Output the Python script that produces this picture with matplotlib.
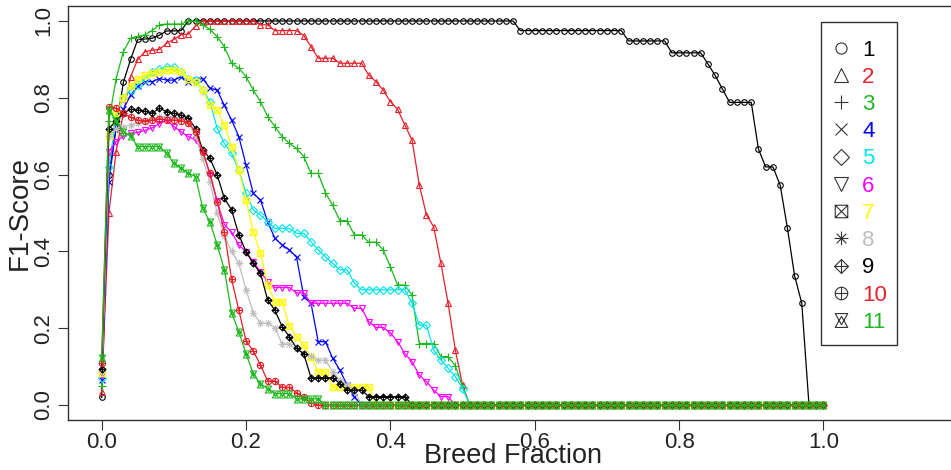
import numpy as np
import matplotlib
matplotlib.use('Agg')
import matplotlib.pyplot as plt
from matplotlib.path import Path
from matplotlib.lines import Line2D
from matplotlib.patches import Rectangle

plt.rcParams['font.family'] = ['Liberation Sans', 'DejaVu Sans']

# breed fraction grid
breed_frac = np.linspace(0, 1, 101)

labels = ['1', '2', '3', '4', '5', '6', '7', '8', '9', '10', '11']
colors = ['#000000', '#E8202A', '#1DB81D', '#0000FF', '#00E5EE', '#FF00FF',
          '#FFFF00', '#BEBEBE', '#000000', '#E8202A', '#1DB81D']

f1_1 = ([0.02, 0.60, 0.72, 0.84, 0.90, 0.952, 0.953, 0.955, 0.963, 0.974, 0.974, 0.975]
        + [1.0] * 46 + [0.975] * 15 + [0.948] * 6 + [0.917] * 5
        + [0.888, 0.858, 0.823] + [0.788] * 4
        + [0.666, 0.62, 0.62, 0.573, 0.462, 0.337, 0.265] + [0.0] * 3)
f1_2 = ([0.035, 0.50, 0.66, 0.76, 0.855, 0.90, 0.92, 0.924, 0.926, 0.942, 0.952, 0.964, 0.966, 0.987]
        + [1.0] * 8 + [0.99] * 2 + [0.975] * 4 + [0.962, 0.933] + [0.903] * 3 + [0.89] * 4
        + [0.859, 0.842, 0.82, 0.79, 0.77, 0.729, 0.69, 0.573, 0.495, 0.464, 0.369, 0.265, 0.143, 0.052]
        + [0.0] * 50)
f1_3 = ([0.05, 0.74, 0.85, 0.92, 0.955, 0.96, 0.964, 0.975, 0.99, 0.992, 0.992, 0.992, 1.0, 1.0,
         0.99, 0.978, 0.959, 0.933, 0.89, 0.877, 0.855, 0.82, 0.79, 0.751, 0.725, 0.699, 0.681,
         0.668, 0.647, 0.603, 0.603, 0.553, 0.52, 0.48, 0.48, 0.443, 0.443, 0.424, 0.424, 0.404,
         0.36, 0.3125, 0.3125, 0.286, 0.16, 0.16, 0.16, 0.126, 0.126, 0.102, 0.048]
        + [0.0] * 50)
f1_4 = ([0.065, 0.58, 0.725, 0.77, 0.807, 0.83, 0.842, 0.842, 0.85, 0.846, 0.846, 0.855, 0.842,
         0.846, 0.85, 0.825, 0.82, 0.78, 0.742, 0.699, 0.625, 0.551, 0.534, 0.477, 0.434, 0.417,
         0.404, 0.385, 0.282, 0.265, 0.165, 0.165, 0.122, 0.091, 0.052, 0.022]
        + [0.0] * 65)
f1_5 = ([0.07, 0.62, 0.75, 0.80, 0.82, 0.833, 0.85, 0.868, 0.874, 0.881, 0.881, 0.868, 0.85,
         0.846, 0.82, 0.79, 0.72, 0.681, 0.655, 0.612, 0.551, 0.508, 0.495, 0.477, 0.46, 0.46,
         0.46, 0.447, 0.447, 0.425, 0.404, 0.386, 0.369, 0.352, 0.352, 0.318]
        + [0.30] * 7
        + [0.265, 0.208, 0.208, 0.143, 0.117, 0.096, 0.074, 0.043]
        + [0.0] * 50)
f1_6 = ([0.075, 0.66, 0.686, 0.70, 0.707, 0.71, 0.715, 0.722, 0.733, 0.742, 0.725, 0.712, 0.699,
         0.69, 0.66, 0.60, 0.53, 0.47, 0.45, 0.417, 0.399, 0.373, 0.347, 0.321, 0.306, 0.306,
         0.306, 0.292, 0.292]
        + [0.265] * 6
        + [0.252, 0.252, 0.217, 0.202, 0.202, 0.188, 0.165, 0.134, 0.113, 0.078, 0.061, 0.039,
           0.022, 0.022]
        + [0.0] * 52)
f1_7 = ([0.083, 0.70, 0.76, 0.80, 0.83, 0.85, 0.859, 0.865, 0.868, 0.872, 0.872, 0.868, 0.85,
         0.842, 0.82, 0.78, 0.768, 0.729, 0.673, 0.612, 0.534, 0.451, 0.395, 0.3125, 0.269,
         0.269, 0.206, 0.178, 0.156, 0.126, 0.087, 0.087]
        + [0.048] * 6 + [0.0] * 63)
f1_8 = ([0.088, 0.70, 0.72, 0.725, 0.729, 0.735, 0.74, 0.745, 0.75, 0.752, 0.75, 0.745, 0.735,
         0.70, 0.64, 0.58, 0.50, 0.44, 0.40, 0.369, 0.30, 0.239, 0.213, 0.213, 0.201, 0.159,
         0.159, 0.145, 0.135, 0.128, 0.117, 0.117, 0.087, 0.065, 0.052, 0.039]
        + [0.0] * 65)
f1_9 = ([0.093, 0.72, 0.74, 0.76, 0.77, 0.768, 0.765, 0.76, 0.773, 0.764, 0.76, 0.755, 0.747,
         0.72, 0.664, 0.642, 0.599, 0.538, 0.508, 0.443, 0.399, 0.369, 0.343, 0.273, 0.247,
         0.204, 0.178, 0.148, 0.133]
        + [0.071] * 4 + [0.056] + [0.039] * 3 + [0.022] * 6 + [0.0] * 58)
f1_10 = ([0.109, 0.777, 0.773, 0.76, 0.749, 0.742, 0.74, 0.742, 0.745, 0.742, 0.742, 0.74,
          0.735, 0.712, 0.66, 0.603, 0.529, 0.45, 0.327, 0.247, 0.167, 0.141, 0.104, 0.0625,
          0.0625, 0.046, 0.046, 0.032, 0.02, 0.005]
         + [0.0] * 71)
f1_11 = ([0.122, 0.768, 0.74, 0.712, 0.70] + [0.673] * 4
         + [0.655, 0.629, 0.616, 0.603, 0.595, 0.512, 0.477, 0.417, 0.352, 0.24, 0.191, 0.134,
            0.081, 0.055, 0.043]
         + [0.03] * 3 + [0.016] * 4 + [0.0] * 70)

series = [f1_1, f1_2, f1_3, f1_4, f1_5, f1_6, f1_7, f1_8, f1_9, f1_10, f1_11]


# R style plotting symbols 7-11 built from paths
def seg_path(polys, segs):
    verts, codes = [], []
    for p in polys:
        verts += p + [p[0]]
        codes += [Path.MOVETO] + [Path.LINETO] * (len(p) - 1) + [Path.CLOSEPOLY]
    for a, b in segs:
        verts += [a, b]
        codes += [Path.MOVETO, Path.LINETO]
    return Path(verts, codes)

sq = [(-1, -1), (1, -1), (1, 1), (-1, 1)]
dia = [(0, 1), (1, 0), (0, -1), (-1, 0)]
plus = [((-1, 0), (1, 0)), ((0, -1), (0, 1))]
cross = [((-1, -1), (1, 1)), ((-1, 1), (1, -1))]
cross7 = [((-.7, -.7), (.7, .7)), ((-.7, .7), (.7, -.7))]

pch7 = seg_path([sq], cross)
pch8 = seg_path([], plus + cross7)
pch9 = seg_path([dia], plus)
pch10 = Path.make_compound_path(Path.unit_circle(), seg_path([], plus))
pch11 = seg_path([[(-0.9, 1), (0.9, 1), (0, -0.6)], [(-0.9, -1), (0.9, -1), (0, 0.6)]], [])

markers = ['o', '^', '+', 'x', 'D', 'v', pch7, pch8, pch9, pch10, pch11]
msizes = [4, 5, 5.5, 4.5, 4, 5, 4.5, 5.5, 5, 4.5, 5]
leg_sizes = [8, 10, 10, 9, 8, 10, 9, 10, 10, 9, 10]

fig = plt.figure(figsize=(9.51, 4.70), dpi=100)
ax = fig.add_axes([0.0715, 0.1055, 0.956, 0.8826])

for i in range(len(series)):
    ax.plot(breed_frac, series[i], color=colors[i], lw=0.9, marker=markers[i],
            ms=msizes[i], mfc='none', mew=0.8)

ax.set_xlim(-0.0467, 1.213)
ax.set_ylim(-0.04, 1.04)
ax.set_xticks([0.0, 0.2, 0.4, 0.6, 0.8, 1.0])
ax.set_yticks([0.0, 0.2, 0.4, 0.6, 0.8, 1.0])
ax.set_xticklabels(['0.0', '0.2', '0.4', '0.6', '0.8', '1.0'])
ax.set_yticklabels(['0.0', '0.2', '0.4', '0.6', '0.8', '1.0'])
ax.tick_params(length=7, width=0.8, labelsize=16, color='#333333', labelcolor='#222222')
ax.tick_params(axis='x', pad=1)
ax.tick_params(axis='y', pad=3)
for lab in ax.get_yticklabels():
    lab.set_rotation(90)
    lab.set_va('center')
for s in ax.spines.values():
    s.set_color('#333333')
    s.set_linewidth(1.0)

ax.set_xlabel('Breed Fraction', fontsize=19.5, labelpad=-6.5, color='#222222')
ax.xaxis.label.set_x(0.49)
ax.set_ylabel('F1-Score', fontsize=20, labelpad=0, color='#222222')

# legend: black symbols, coloured labels, square box
ax.add_patch(Rectangle((0.828, 0.1818), 0.084, 0.7787, transform=ax.transAxes,
                       fill=False, edgecolor='#333333', lw=1.0, zorder=5))
handles = [Line2D([], [], marker=markers[i], color='#333333', ls='None', ms=leg_sizes[i],
                  mfc='none', mew=0.8) for i in range(len(labels))]
leg = ax.legend(handles, labels, loc='upper left', bbox_to_anchor=(0.838, 0.918),
                fontsize=16, labelcolor=colors, frameon=False, handlelength=1.0,
                handletextpad=0.45, labelspacing=0.28, borderpad=0, borderaxespad=0)

fig.savefig('out.png', dpi=100)
